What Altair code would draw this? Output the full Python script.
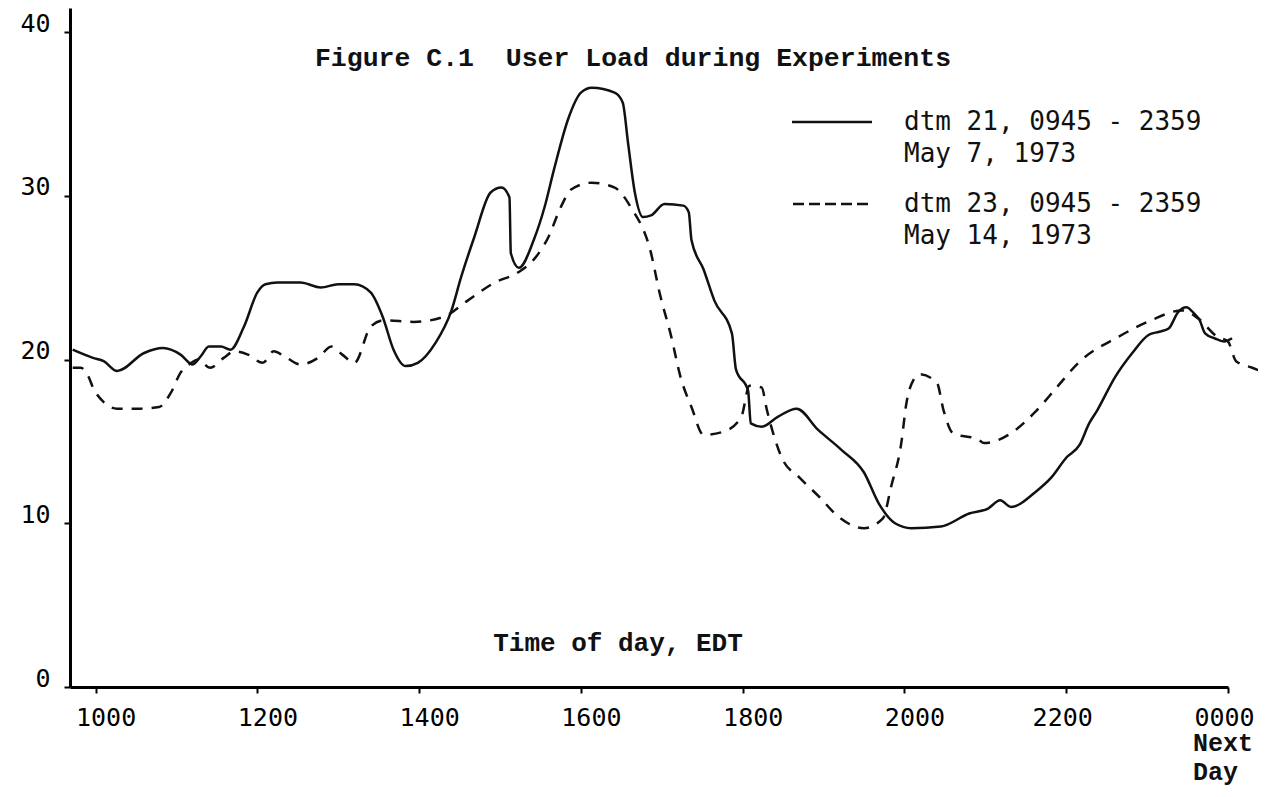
import altair as alt
import pandas as pd

# ---- data (minutes after midnight, user load) ----
times_21 = [583, 598, 606, 616, 636, 650, 663, 672, 678, 684, 693, 700, 710, 720, 726, 735, 752, 767, 780, 792,
            804, 813, 821, 830, 839, 852, 864, 871, 881, 893, 901, 907, 908, 914, 925, 933, 940, 951, 960, 968,
            985, 991, 995, 1000, 1006, 1012, 1022, 1036, 1040, 1042, 1051, 1059, 1072, 1075, 1084, 1086, 1094,
            1106, 1120, 1136, 1153, 1170, 1181, 1193, 1205, 1227, 1248, 1262, 1271, 1279, 1297, 1309, 1320, 1330,
            1337, 1343, 1356, 1369, 1381, 1389, 1396, 1403, 1409, 1415, 1419, 1423, 1430, 1437, 1443]
load_21 = [20.6, 20.1, 19.9, 19.3, 20.4, 20.7, 20.3, 19.7, 20.2, 20.8, 20.8, 20.6, 22.0, 24.1, 24.6, 24.7, 24.7,
           24.4, 24.6, 24.6, 24.1, 22.6, 20.6, 19.6, 19.8, 21.0, 23.0, 25.0, 27.5, 30.2, 30.5, 29.9, 26.5, 25.6,
           27.3, 29.3, 31.6, 34.8, 36.3, 36.6, 36.3, 35.7, 33.2, 30.2, 28.7, 28.8, 29.5, 29.4, 29.0, 27.3, 25.5,
           23.6, 21.6, 19.4, 18.1, 16.1, 15.9, 16.5, 17.0, 15.7, 14.5, 13.1, 11.2, 10.0, 9.7, 9.8, 10.6, 10.9,
           11.4, 11.0, 11.9, 12.8, 14.0, 14.8, 16.1, 16.9, 18.9, 20.4, 21.5, 21.7, 21.9, 22.9, 23.2, 22.8, 22.4,
           21.6, 21.3, 21.1, 21.3]

times_23 = [583, 589, 595, 598, 606, 616, 633, 647, 656, 663, 671, 676, 685, 695, 703, 713, 724, 732, 740, 752,
            765, 775, 783, 792, 804, 814, 836, 858, 876, 896, 913, 925, 936, 945, 953, 968, 985, 997, 1012, 1018,
            1027, 1034, 1042, 1051, 1066, 1079, 1085, 1094, 1098, 1109, 1122, 1137, 1151, 1170, 1184, 1190, 1198,
            1201, 1207, 1211, 1224, 1229, 1236, 1255, 1259, 1279, 1297, 1313, 1329, 1359, 1383, 1406, 1418, 1432,
            1440, 1446, 1458, 1467]
load_23 = [19.5, 19.5, 18.9, 18.3, 17.4, 17.0, 17.0, 17.1, 18.0, 19.2, 19.8, 20.0, 19.5, 20.1, 20.5, 20.3, 19.8,
           20.5, 20.2, 19.7, 20.1, 20.8, 20.3, 19.8, 22.0, 22.4, 22.3, 22.6, 23.6, 24.7, 25.3, 26.1, 27.5, 29.3,
           30.4, 30.8, 30.5, 29.3, 26.5, 24.2, 21.4, 18.9, 17.1, 15.4, 15.6, 16.5, 18.4, 18.3, 16.9, 14.0, 12.8,
           11.6, 10.4, 9.7, 10.3, 12.2, 15.1, 17.1, 18.8, 19.1, 18.6, 16.9, 15.5, 15.1, 14.9, 15.5, 16.8, 18.3,
           19.8, 21.4, 22.4, 23.0, 22.5, 21.4, 21.1, 19.9, 19.5, 19.2]

x_tick_values = [600, 720, 840, 960, 1080, 1200, 1320, 1440]
x_tick_labels = ["1000", "1200", "1400", "1600", "1800", "2000", "2200", "0000"]
y_tick_values = [0, 10, 20, 30, 40]

title_text = "Figure C.1\u00a0 User Load during Experiments"
xaxis_text = "Time of day, EDT"
next_day_lines = ["Next", "Day"]
legend_lines = ["dtm 21, 0945 - 2359", "May 7, 1973", "dtm 23, 0945 - 2359", "May 14, 1973"]

df21 = pd.DataFrame({"t": times_21, "load": load_21})
df23 = pd.DataFrame({"t": times_23, "load": load_23})

label_expr = ""
for v, lab in zip(x_tick_values, x_tick_labels):
    label_expr += f"datum.value == {v} ? '{lab}' : "
label_expr += "''"

x_scale = alt.Scale(domain=[581, 1440], nice=False, zero=False)
y_scale = alt.Scale(domain=[0, 41.47], nice=False, zero=True)

x_enc = alt.X("t:Q", scale=x_scale,
              axis=alt.Axis(values=x_tick_values, labelExpr=label_expr, title=None, grid=False,
                            domainColor="black", domainWidth=3, tickColor="black", tickWidth=2,
                            tickSize=6, labelFont="DejaVu Sans Mono", labelFontSize=25,
                            labelColor="black", labelBaseline="middle", labelPadding=24,
                            labelOffset={"condition": {"test": "datum.value >= 1300", "value": -4},
                                         "value": 10},
                            labelFlush=False, labelOverlap=False))
y_enc = alt.Y("load:Q", scale=y_scale,
              axis=alt.Axis(values=y_tick_values, title=None, grid=False,
                            domainColor="black", domainWidth=3, tickColor="black", tickWidth=2,
                            tickSize=6, labelFont="DejaVu Sans Mono", labelFontSize=25,
                            labelColor="black", labelPadding=14, labelOffset=-9,
                            labelFlush=False, labelOverlap=False))

solid = alt.Chart(df21).mark_line(color="#111", strokeWidth=2.5, interpolate="monotone").encode(
    x=x_enc, y=y_enc)
dashed = alt.Chart(df23).mark_line(color="#111", strokeWidth=2.5, strokeDash=[11, 9],
                                   interpolate="monotone").encode(x="t:Q", y="load:Q")

one = pd.DataFrame({"k": [0]})

title = alt.Chart(one).mark_text(text=title_text, font="Liberation Mono", fontWeight="bold",
                                 fontSize=26.5, color="#111", align="center", baseline="middle").encode(
    x=alt.value(563), y=alt.value(50))
xtitle = alt.Chart(one).mark_text(text=xaxis_text, font="Liberation Mono", fontWeight="bold",
                                  fontSize=26, color="#111", align="center", baseline="middle").encode(
    x=alt.value(548), y=alt.value(635))
nextday = alt.Chart(one).mark_text(text=next_day_lines, font="Liberation Mono", fontWeight="bold",
                                   fontSize=25, lineHeight=29, color="#111", align="left",
                                   baseline="middle").encode(x=alt.value(1123), y=alt.value(735))

leg_rows_y = [114, 146, 196, 228]
legend_texts = []
for txt, yy in zip(legend_lines, leg_rows_y):
    legend_texts.append(
        alt.Chart(one).mark_text(text=txt, font="DejaVu Sans Mono", fontSize=26, color="#111",
                                 align="left", baseline="middle").encode(x=alt.value(834), y=alt.value(yy)))

leg_solid = alt.Chart(one).mark_rule(color="#111", strokeWidth=2.5).encode(
    x=alt.value(722), x2=alt.value(802), y=alt.value(114))
leg_dash = alt.Chart(one).mark_rule(color="#111", strokeWidth=2.5, strokeDash=[11, 5]).encode(
    x=alt.value(723), x2=alt.value(798), y=alt.value(196))

chart = alt.layer(solid, dashed, title, xtitle, nextday, leg_solid, leg_dash, *legend_texts).properties(
    width=1158, height=679,
    autosize=alt.AutoSizeParams(type="none"),
    padding={"left": 62, "top": 0, "right": 30, "bottom": 100},
    background="white",
).configure_view(stroke=None, strokeWidth=0)

chart.save("out.html", embed_options={"renderer": "svg", "actions": False})
